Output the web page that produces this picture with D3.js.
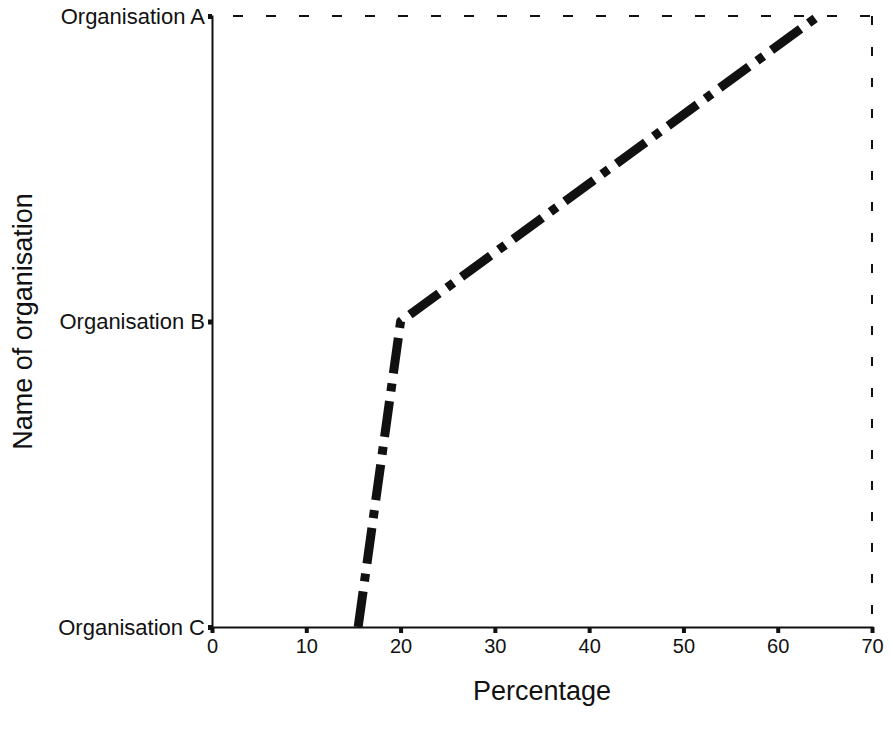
<!DOCTYPE html>
<html><head><meta charset="utf-8">
<script src="https://cdn.jsdelivr.net/npm/d3@7/dist/d3.min.js"></script>
<style>body{margin:0;background:#fff;} text{font-family:"Liberation Sans",Arial,sans-serif;fill:#111;}</style>
</head><body><svg id="chart" width="890" height="736"></svg>
<script>
const categories = ["Organisation C", "Organisation B", "Organisation A"];
const percentages = [15.5, 20, 64.3];
const xTicks = [0, 10, 20, 30, 40, 50, 60, 70];

const W = 890, H = 736;
const m = {left: 212, right: 18, top: 16, bottom: 109};
const svg = d3.select("#chart");
const x = d3.scaleLinear().domain([0, 70]).range([m.left, W - m.right]);
const y = d3.scalePoint().domain(categories).range([H - m.bottom, m.top]);

// frame dashed top and right
svg.append("line").attr("x1", x(0)).attr("x2", x(70)).attr("y1", y("Organisation A")).attr("y2", y("Organisation A"))
  .attr("stroke", "#111").attr("stroke-width", 2).attr("stroke-dasharray", "10,23").attr("stroke-dashoffset", 12);
svg.append("line").attr("x1", x(70)).attr("x2", x(70)).attr("y1", y("Organisation A")).attr("y2", y("Organisation C"))
  .attr("stroke", "#111").attr("stroke-width", 2).attr("stroke-dasharray", "9,22");

// x axis
const xAxis = svg.append("g").attr("transform", `translate(0,${y("Organisation C")})`)
  .call(d3.axisBottom(x).tickValues(xTicks).tickFormat(d3.format("d")).tickSize(6).tickPadding(6));
xAxis.select(".domain").attr("stroke", "#111").attr("stroke-width", 2);
xAxis.selectAll(".tick line").attr("stroke", "#111").attr("stroke-width", 4);
xAxis.selectAll(".tick text").attr("font-size", 20).style("font-family", "Liberation Sans, Arial, sans-serif").attr("fill", "#111");

// y axis
const yAxis = svg.append("g").attr("transform", `translate(${x(0)},0)`)
  .call(d3.axisLeft(y).tickSize(4).tickPadding(3));
yAxis.select(".domain").attr("stroke", "#111").attr("stroke-width", 2);
yAxis.selectAll(".tick line").attr("stroke", "#111").attr("stroke-width", 5);
yAxis.selectAll(".tick text").attr("font-size", 22).style("font-family", "Liberation Sans, Arial, sans-serif").attr("fill", "#111");

// data line
const pts = categories.map((c, i) => [x(percentages[i]), y(c)]);
svg.append("path").attr("d", d3.line()(pts)).attr("fill", "none").attr("stroke", "#111")
  .attr("stroke-width", 9).attr("stroke-dasharray", "36,10,8,10").attr("stroke-linejoin", "round");

// titles
svg.append("text").attr("x", (x(0) + x(70)) / 2).attr("y", 700).attr("text-anchor", "middle").attr("font-size", 27).text("Percentage");
svg.append("text").attr("transform", `translate(32,${(y("Organisation A") + y("Organisation C")) / 2}) rotate(-90)`)
  .attr("text-anchor", "middle").attr("font-size", 27).text("Name of organisation");
</script></body></html>
